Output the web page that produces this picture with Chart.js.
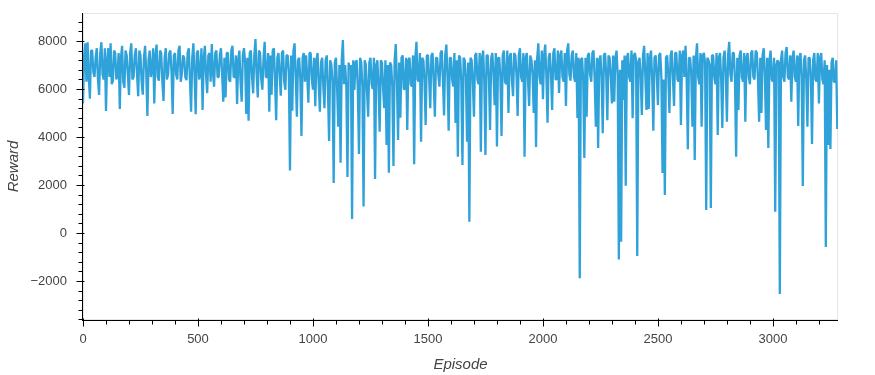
<!DOCTYPE html>
<html>
<head>
<meta charset="utf-8">
<script src="https://cdn.jsdelivr.net/npm/chart.js@4/dist/chart.umd.min.js"></script>
<style>
  html, body { margin: 0; padding: 0; background: #fff; }
  #wrap { width: 875px; height: 375px; }
</style>
</head>
<body>
<div id="wrap"><canvas id="rewardChart" width="875" height="375"></canvas></div>
<script>
// Episode reward, one sample every 5 episodes (20 per row = 100 episodes)
const episodeStep = 5;
const rewards = [
    5400, 7400, 7900, 6300, 7950, 6500, 5600, 7600, 7600, 6700, 6500, 7300, 7700, 6400, 5750, 7500, 7950, 6600, 6400, 7700,
    5080, 7200, 7700, 6500, 7900, 6200, 6350, 7600, 7500, 6400, 6600, 7500, 5170, 7300, 7800, 6300, 6050, 7600, 7400, 6600,
    5750, 7500, 7900, 6400, 6500, 7400, 7700, 6600, 5700, 7600, 7400, 6300, 5760, 7300, 7800, 6700, 4880, 7200, 7600, 6500,
    6800, 7700, 5400, 7400, 7850, 6500, 6350, 7600, 7500, 6300, 5500, 7300, 7700, 6400, 6600, 7500, 7600, 6700, 4960, 7400,
    7500, 6600, 6400, 7600, 7800, 6300, 6650, 7400, 7300, 6500, 6370, 7500, 7700, 6400, 5050, 7300, 7900, 6600, 4950, 7500,
    7600, 6400, 6600, 7700, 5130, 7300, 7800, 6600, 5830, 7400, 7500, 6300, 7870, 6700, 6100, 7500, 7600, 6500, 6500, 7400,
    7700, 6600, 5470, 7300, 5650, 7500, 7500, 6400, 6300, 7600, 7800, 6500, 6500, 7400, 5375, 7200, 7600, 6300, 5470, 7400,
    7700, 7100, 4960, 7300, 4680, 7500, 7600, 6500, 5820, 7400, 8080, 6600, 5650, 7600, 7500, 6400, 5970, 7300, 7970, 6500,
    6500, 7500, 5055, 7400, 5760, 7600, 7700, 6400, 4700, 7300, 7500, 6600, 5720, 7500, 7600, 6300, 5970, 7400, 7400, 6700,
    2600, 7400, 5100, 7600, 7900, 6500, 4850, 7200, 7300, 6400, 4040, 7300, 7500, 6300, 7400, 6500, 5430, 7500, 7500, 6400,
    5970, 7300, 5280, 7200, 7500, 6200, 5050, 7100, 7300, 6100, 5200, 7200, 7400, 6000, 3830, 7200, 7000, 6300, 2080, 7100,
    7300, 6000, 4430, 7000, 2930, 7200, 8040, 6200, 7000, 6100, 2330, 7100, 6800, 7000, 580, 7200, 5960, 7100, 7200, 6000,
    3290, 7300, 7100, 6100, 1100, 7200, 7000, 5900, 4850, 7100, 7300, 6200, 6000, 7300, 2250, 7000, 7200, 6100, 4220, 7200,
    7100, 6000, 5200, 7200, 3670, 7000, 2510, 7100, 7000, 6100, 2790, 7200, 7870, 6300, 3875, 7100, 4800, 7300, 7400, 6000,
    6000, 7300, 4290, 7200, 7300, 6200, 6100, 7400, 2870, 7300, 7970, 6400, 6300, 7500, 3800, 7300, 7200, 6300, 4500, 7400,
    7400, 6500, 5200, 7400, 7500, 6300, 4850, 7300, 7300, 6600, 6100, 7500, 7600, 6400, 4900, 7400, 7850, 6500, 4260, 7300,
    7300, 6400, 6100, 7500, 4580, 7200, 3180, 7400, 7300, 6300, 2830, 7300, 7200, 6500, 3800, 7100, 470, 7300, 7200, 6300,
    4850, 7400, 7500, 6400, 6200, 7500, 3390, 7300, 7600, 6300, 3250, 7400, 7400, 6500, 4290, 7300, 7500, 6600, 5330, 7500,
    3600, 7300, 7300, 6500, 4040, 7400, 7600, 6300, 6200, 7600, 5000, 7300, 7500, 6400, 5700, 7500, 7400, 6600, 4875, 7400,
    7700, 6500, 6300, 7500, 3180, 7300, 7500, 6400, 5290, 7400, 7200, 6600, 5000, 7200, 3580, 7300, 7900, 6500, 6200, 7600,
    5570, 7400, 7850, 6500, 4600, 7300, 7500, 6600, 5125, 7500, 7700, 6400, 6400, 7600, 5830, 7400, 7600, 6500, 6300, 7500,
    5290, 7600, 7900, 6600, 6350, 7400, 7600, 6500, 6300, 7500, 4790, 7300, -1880, 7200, 7300, 6400, 3125, 7300, 4850, 7400,
    7500, 6600, 6300, 7500, 7600, 6400, 4430, 7300, 3540, 7200, 7400, 6500, 4160, 7400, 7500, 6600, 4700, 7400, 7300, 6500,
    5400, 7400, 5470, 7300, 7600, 6600, -1100, 6800, -360, 7200, 5540, 7400, 1970, 7300, 7500, 6500, 6300, 7600, 4780, 7400,
    7500, 7200, -960, 7100, 7300, 6500, 4920, 7400, 7800, 6600, 5125, 7500, 5170, 7300, 7600, 6400, 4260, 7300, 7400, 6600,
    5330, 7400, 7500, 6500, 2500, 6400, 1580, 7300, 7400, 6600, 5000, 7400, 7600, 6500, 5290, 7500, 7500, 6400, 6300, 7600,
    4500, 7400, 7600, 6500, 7800, 6400, 3490, 7300, 7300, 6600, 4430, 7400, 3040, 7300, 7900, 6500, 6200, 7500, 4430, 7400,
    7500, 7100, 960, 7300, 7200, 7000, 1040, 7400, 7400, 6500, 6200, 7500, 4080, 7300, 7500, 6400, 4375, 7300, 7600, 6600,
    4640, 7400, 7970, 6600, 6300, 7500, 7500, 6400, 3180, 7300, 5125, 7400, 7600, 6500, 6300, 7500, 4640, 7300, 7500, 6500,
    6200, 7500, 7600, 6500, 6400, 7600, 7500, 6400, 4640, 7300, 5000, 7400, 7700, 6600, 4290, 7300, 3540, 7200, 7600, 6400,
    6300, 7300, 890, 7000, 7200, 7100, -2540, 7200, 7600, 6500, 6300, 7500, 7750, 6500, 6400, 7400, 5470, 7300, 7600, 6500,
    6300, 7400, 4460, 7300, 7500, 6500, 1960, 7200, 7400, 6400, 4430, 7300, 7300, 6500, 3710, 7200, 7500, 6400, 6300, 7500,
    5400, 7300, 7500, 6400, 6200, 7200, -580, 7000, 3670, 6800, 3500, 7100, 7300, 6300, 6300, 7200, 4330
];
const xTicks = [0, 500, 1000, 1500, 2000, 2500, 3000];
const yTicks = [-2000, 0, 2000, 4000, 6000, 8000];
const xMinorStep = 100;
const yMinorStep = 400;
const xRange = [0, 3283];
const yRange = [-3625, 9167];

const points = rewards.map((r, i) => ({ x: i * episodeStep, y: r }));

const fmt = v => (v < 0 ? "\u2212" + Math.abs(v) : String(v));

// Bokeh-like frame: grey outline, black axis lines, major + minor ticks
const bokehAxes = {
    id: "bokehAxes",
    beforeDatasetsDraw(chart) {
        const { ctx, chartArea: a } = chart;
        ctx.save();
        ctx.strokeStyle = "#e5e5e5";
        ctx.lineWidth = 1;
        ctx.strokeRect(a.left + 0.5, a.top + 0.5, a.right - a.left - 1, a.bottom - a.top - 1);
        ctx.restore();
    },
    afterDraw(chart) {
        const { ctx, chartArea: a, scales } = chart;
        const xs = scales.x, ys = scales.y;
        ctx.save();
        ctx.strokeStyle = "#000";
        ctx.lineWidth = 1;
        ctx.beginPath();
        const by = Math.round(a.bottom) + 0.5;
        const lx = Math.round(a.left) - 0.5;
        ctx.moveTo(a.left - 1, by); ctx.lineTo(a.right, by);
        ctx.moveTo(lx, a.top); ctx.lineTo(lx, a.bottom + 1);
        // x ticks
        for (let v = Math.ceil(xs.min / xMinorStep) * xMinorStep; v <= xs.max; v += xMinorStep) {
            const px = Math.round(xs.getPixelForValue(v)) + 0.5;
            const major = xTicks.includes(v);
            ctx.moveTo(px, by - (major ? 2 : 0));
            ctx.lineTo(px, by + (major ? 6 : 4));
        }
        // y ticks
        for (let v = Math.ceil(ys.min / yMinorStep) * yMinorStep; v <= ys.max; v += yMinorStep) {
            const py = Math.round(ys.getPixelForValue(v)) + 0.5;
            const major = yTicks.includes(v);
            ctx.moveTo(lx + (major ? 2 : 0), py);
            ctx.lineTo(lx - (major ? 6 : 4), py);
        }
        ctx.stroke();
        ctx.restore();
    }
};

Chart.defaults.font.family = "'Liberation Sans', Arial, sans-serif";
Chart.defaults.color = "#444";

new Chart(document.getElementById("rewardChart"), {
    type: "line",
    data: {
        datasets: [{
            label: "Reward",
            data: points,
            borderColor: "#30a2da",
            borderWidth: 2.3,
            borderJoinStyle: "bevel",
            pointRadius: 0,
            tension: 0,
            fill: false
        }]
    },
    options: {
        responsive: false,
        animation: false,
        layout: { padding: { left: 0, top: 13, right: 37, bottom: 0 } },
        plugins: { legend: { display: false }, tooltip: { enabled: false } },
        scales: {
            x: {
                type: "linear",
                min: xRange[0],
                max: xRange[1],
                afterBuildTicks: s => { s.ticks = xTicks.map(v => ({ value: v })); },
                afterFit: s => { s.height = 55; s.paddingLeft = 0; s.paddingRight = 0; },
                grid: { display: false, drawTicks: true, tickLength: 6 },
                border: { display: false },
                ticks: { font: { size: 13 }, padding: 6, maxRotation: 0, callback: v => fmt(v) },
                title: {
                    display: true, text: "Episode",
                    font: { size: 15, style: "italic" },
                    padding: { top: 0, bottom: 1 }
                }
            },
            y: {
                type: "linear",
                min: yRange[0],
                max: yRange[1],
                afterBuildTicks: s => { s.ticks = yTicks.map(v => ({ value: v })); },
                afterFit: s => { s.width = 83; s.paddingTop = 0; s.paddingBottom = 0; },
                grid: { display: false, drawTicks: true, tickLength: 6 },
                border: { display: false },
                ticks: { font: { size: 13 }, padding: 10, callback: v => fmt(v) },
                title: {
                    display: true, text: "Reward",
                    font: { size: 15, style: "italic" },
                    padding: { top: 5, bottom: 0 }
                }
            }
        }
    },
    plugins: [bokehAxes]
});
</script>
</body>
</html>
